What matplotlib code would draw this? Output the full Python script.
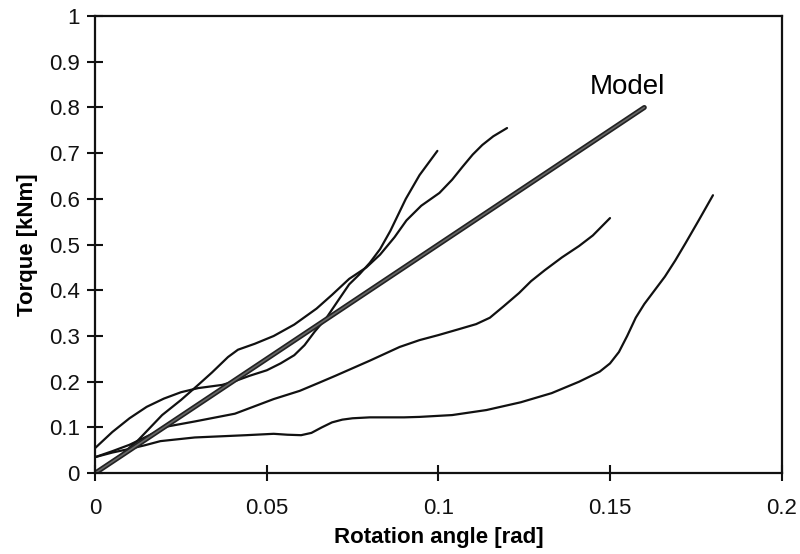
import matplotlib.pyplot as plt
from matplotlib.ticker import FuncFormatter

plt.rcParams['font.family'] = ['Liberation Sans', 'DejaVu Sans']

curva_a_x = [0, 0.005, 0.01, 0.015, 0.02, 0.025, 0.03, 0.034, 0.037, 0.041, 0.045,
             0.05, 0.054, 0.058, 0.061, 0.064, 0.0674, 0.071, 0.074, 0.077, 0.08,
             0.083, 0.086, 0.0905, 0.0945, 0.0997]
curva_a_y = [0.055, 0.09, 0.12, 0.145, 0.163, 0.177, 0.186, 0.19, 0.193, 0.202, 0.213,
             0.225, 0.24, 0.258, 0.28, 0.31, 0.34, 0.38, 0.413, 0.435, 0.46,
             0.49, 0.53, 0.60, 0.652, 0.705]

curva_b_x = [0, 0.006, 0.0125, 0.0195, 0.025, 0.030, 0.034, 0.0387, 0.0416, 0.0465,
             0.052, 0.058, 0.0645, 0.069, 0.074, 0.079, 0.083, 0.0872, 0.0907,
             0.095, 0.1003, 0.104, 0.107, 0.110, 0.1128, 0.116, 0.12]
curva_b_y = [0, 0.03, 0.072, 0.127, 0.16, 0.193, 0.22, 0.254, 0.27, 0.283,
             0.300, 0.325, 0.36, 0.39, 0.425, 0.45, 0.478, 0.516, 0.553,
             0.585, 0.613, 0.642, 0.67, 0.697, 0.718, 0.737, 0.755]

curva_c_x = [0, 0.005, 0.01, 0.015, 0.021, 0.029, 0.0407, 0.046, 0.052, 0.0596,
             0.065, 0.07, 0.08, 0.0887, 0.0945, 0.1, 0.106, 0.111, 0.115, 0.119,
             0.1235, 0.127, 0.131, 0.136, 0.141, 0.145, 0.150]
curva_c_y = [0.035, 0.048, 0.062, 0.08, 0.102, 0.113, 0.13, 0.145, 0.162, 0.18,
             0.197, 0.213, 0.246, 0.276, 0.291, 0.302, 0.315, 0.326, 0.34, 0.365,
             0.394, 0.42, 0.444, 0.472, 0.497, 0.52, 0.558]

curva_d_x = [0, 0.005, 0.01, 0.0145, 0.019, 0.029, 0.044, 0.052, 0.056, 0.06,
             0.063, 0.066, 0.069, 0.072, 0.075, 0.08, 0.09, 0.0945, 0.104, 0.114,
             0.124, 0.133, 0.141, 0.147, 0.150, 0.1526, 0.155, 0.1575, 0.16,
             0.163, 0.166, 0.169, 0.172, 0.176, 0.18]
curva_d_y = [0.035, 0.045, 0.053, 0.061, 0.07, 0.078, 0.083, 0.086, 0.084, 0.083,
             0.088, 0.1, 0.111, 0.117, 0.12, 0.122, 0.122, 0.123, 0.127, 0.138,
             0.155, 0.175, 0.2, 0.222, 0.24, 0.265, 0.30, 0.34, 0.37,
             0.40, 0.43, 0.465, 0.503, 0.555, 0.608]

modelo_x = [0, 0.16]
modelo_y = [0, 0.8]

x_ticks = [0, 0.05, 0.1, 0.15, 0.2]
y_ticks = [0, 0.1, 0.2, 0.3, 0.4, 0.5, 0.6, 0.7, 0.8, 0.9, 1]

fig = plt.figure(figsize=(8, 5.54), dpi=100)
ax = fig.add_axes([0.119, 0.146, 0.858, 0.825])

for cx, cy in [(curva_a_x, curva_a_y), (curva_b_x, curva_b_y),
               (curva_c_x, curva_c_y), (curva_d_x, curva_d_y)]:
    ax.plot(cx, cy, color='#111111', lw=1.6, solid_capstyle='round',
            solid_joinstyle='round')

# modelo: linha grossa com contorno escuro
ax.plot(modelo_x, modelo_y, color='#222222', lw=3.6, solid_capstyle='round')
ax.plot(modelo_x, modelo_y, color='#666666', lw=1.2, solid_capstyle='round')
ax.text(0.155, 0.845, 'Model', fontsize=20, ha='center', va='center')

ax.set_xlim(0, 0.2)
ax.set_ylim(0, 1)
ax.set_xticks(x_ticks)
ax.set_yticks(y_ticks)
fmt = FuncFormatter(lambda v, p: f'{v:g}')
ax.xaxis.set_major_formatter(fmt)
ax.yaxis.set_major_formatter(fmt)
ax.tick_params(direction='inout', length=12, width=1.5, labelsize=16, colors='#111111')
ax.tick_params(axis='x', pad=12)
ax.tick_params(axis='y', pad=5)
for s in ax.spines.values():
    s.set_linewidth(1.6)
    s.set_color('#111111')

ax.set_xlabel('Rotation angle [rad]', fontsize=16, fontweight='bold', labelpad=6)
ax.set_ylabel('Torque [kNm]', fontsize=16, fontweight='bold', labelpad=8)

fig.savefig('out.png', dpi=100)
